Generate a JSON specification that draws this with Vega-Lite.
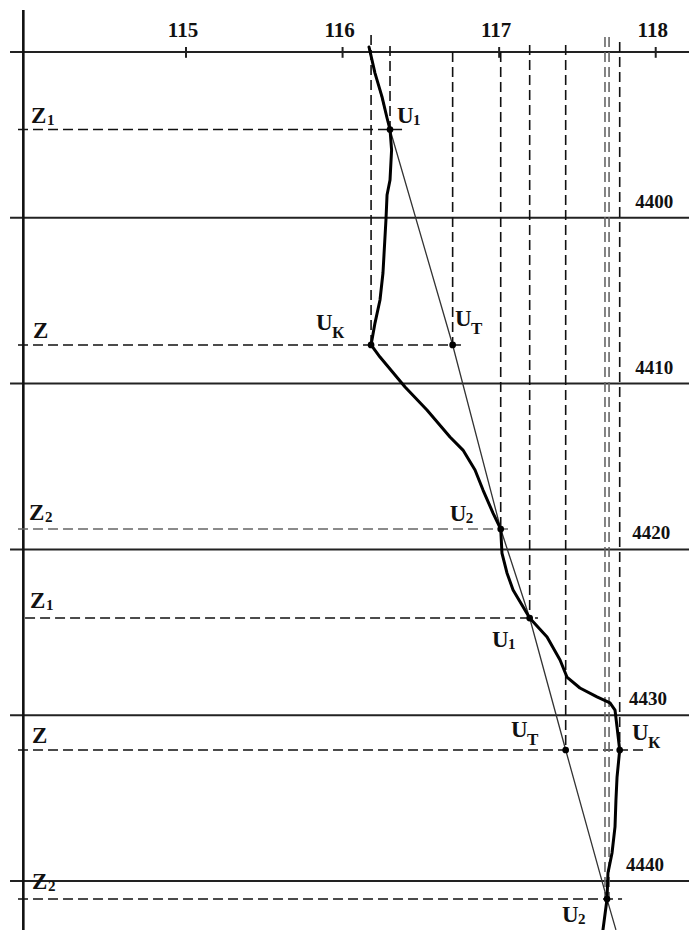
{
  "$schema": "https://vega.github.io/schema/vega-lite/v6.json",
  "width": 689,
  "height": 930,
  "autosize": {"type": "none"},
  "padding": 0,
  "background": "white",
  "config": {"view": {"stroke": null}},
  "datasets": {
    "depthLines": [
      {"x": 113.876, "x2": 118.2126, "d": 4390},
      {"x": 113.876, "x2": 118.2126, "d": 4400},
      {"x": 113.876, "x2": 118.2126, "d": 4410},
      {"x": 113.876, "x2": 118.2126, "d": 4420},
      {"x": 113.876, "x2": 118.2126, "d": 4430},
      {"x": 113.876, "x2": 118.2126, "d": 4440}
    ],
    "depthAxis": [{"x": 113.961, "d": 4387.47, "d2": 4442.956}],
    "ticks": [
      {"x": 115, "d": 4389.7, "d2": 4390.35, "t": "115"},
      {"x": 116, "d": 4389.7, "d2": 4390.35, "t": "116"},
      {"x": 117, "d": 4389.7, "d2": 4390.35, "t": "117"},
      {"x": 118, "d": 4389.7, "d2": 4390.35, "t": "118"}
    ],
    "depthLabels": [
      {"x": 117.87, "d": 4400, "t": "4400"},
      {"x": 117.87, "d": 4410, "t": "4410"},
      {"x": 117.85, "d": 4420, "t": "4420"},
      {"x": 117.83, "d": 4430, "t": "4430"},
      {"x": 117.81, "d": 4440, "t": "4440"}
    ],
    "guides": [
      {"name": "UK upper", "faint": false, "x": 116.182, "x2": 116.182, "d": 4388.975, "d2": 4407.67},
      {"name": "U1 upper", "faint": false, "x": 116.303, "x2": 116.303, "d": 4389.64, "d2": 4394.675},
      {"name": "UT upper", "faint": false, "x": 116.703, "x2": 116.703, "d": 4390.0, "d2": 4407.67},
      {"name": "U2 upper", "faint": false, "x": 117.01, "x2": 117.01, "d": 4390.0, "d2": 4418.77},
      {"name": "U1 lower", "faint": false, "x": 117.195, "x2": 117.195, "d": 4389.58, "d2": 4424.14},
      {"name": "UT lower", "faint": false, "x": 117.425, "x2": 117.425, "d": 4389.58, "d2": 4432.1},
      {"name": "UK lower", "faint": false, "x": 117.77, "x2": 117.77, "d": 4389.4, "d2": 4432.1},
      {"name": "U2 lower a", "faint": true, "x": 117.676, "x2": 117.676, "d": 4389.1, "d2": 4441.09},
      {"name": "U2 lower b", "faint": true, "x": 117.702, "x2": 117.702, "d": 4389.1, "d2": 4441.09},
      {"name": "Z1 upper", "faint": false, "x": 113.927, "x2": 116.38, "d": 4394.675, "d2": 4394.675},
      {"name": "Z upper", "faint": false, "x": 113.927, "x2": 116.756, "d": 4407.67, "d2": 4407.67},
      {"name": "Z2 upper", "faint": true, "x": 113.927, "x2": 117.088, "d": 4418.77, "d2": 4418.77},
      {"name": "Z1 lower", "faint": false, "x": 113.972, "x2": 117.248, "d": 4424.14, "d2": 4424.14},
      {"name": "Z lower", "faint": false, "x": 113.927, "x2": 117.951, "d": 4432.1, "d2": 4432.1},
      {"name": "Z2 lower", "faint": false, "x": 113.927, "x2": 117.785, "d": 4441.09, "d2": 4441.09}
    ],
    "trend": [
      {"i": 0, "x": 116.165, "d": 4389.7},
      {"i": 1, "x": 116.303, "d": 4394.675},
      {"i": 2, "x": 116.703, "d": 4407.67},
      {"i": 3, "x": 117.01, "d": 4418.77},
      {"i": 4, "x": 117.195, "d": 4424.14},
      {"i": 5, "x": 117.425, "d": 4432.1},
      {"i": 6, "x": 117.689, "d": 4441.09},
      {"i": 7, "x": 117.746, "d": 4442.95}
    ],
    "curve": [
      {"i": 1, "x": 116.169, "d": 4389.7},
      {"i": 2, "x": 116.207, "d": 4391.27},
      {"i": 3, "x": 116.252, "d": 4392.71},
      {"i": 4, "x": 116.284, "d": 4393.98},
      {"i": 5, "x": 116.303, "d": 4394.675},
      {"i": 6, "x": 116.313, "d": 4395.91},
      {"i": 7, "x": 116.303, "d": 4397.72},
      {"i": 8, "x": 116.284, "d": 4398.63},
      {"i": 9, "x": 116.277, "d": 4400.13},
      {"i": 10, "x": 116.258, "d": 4403.33},
      {"i": 11, "x": 116.239, "d": 4404.96},
      {"i": 12, "x": 116.207, "d": 4406.35},
      {"i": 13, "x": 116.182, "d": 4407.67},
      {"i": 14, "x": 116.239, "d": 4408.4},
      {"i": 15, "x": 116.399, "d": 4410.21},
      {"i": 16, "x": 116.539, "d": 4411.59},
      {"i": 17, "x": 116.686, "d": 4413.22},
      {"i": 18, "x": 116.769, "d": 4414.01},
      {"i": 19, "x": 116.846, "d": 4415.21},
      {"i": 20, "x": 116.897, "d": 4416.42},
      {"i": 21, "x": 116.961, "d": 4417.81},
      {"i": 22, "x": 117.01, "d": 4418.77},
      {"i": 23, "x": 117.018, "d": 4420.22},
      {"i": 24, "x": 117.05, "d": 4421.42},
      {"i": 25, "x": 117.089, "d": 4422.45},
      {"i": 26, "x": 117.195, "d": 4424.14},
      {"i": 27, "x": 117.306, "d": 4425.28},
      {"i": 28, "x": 117.389, "d": 4426.67},
      {"i": 29, "x": 117.433, "d": 4427.7},
      {"i": 30, "x": 117.516, "d": 4428.36},
      {"i": 31, "x": 117.625, "d": 4428.9},
      {"i": 32, "x": 117.708, "d": 4429.26},
      {"i": 33, "x": 117.74, "d": 4429.69},
      {"i": 34, "x": 117.753, "d": 4430.71},
      {"i": 35, "x": 117.77, "d": 4432.1},
      {"i": 36, "x": 117.753, "d": 4433.73},
      {"i": 37, "x": 117.746, "d": 4435.12},
      {"i": 38, "x": 117.74, "d": 4436.74},
      {"i": 39, "x": 117.721, "d": 4438.31},
      {"i": 40, "x": 117.695, "d": 4439.52},
      {"i": 41, "x": 117.689, "d": 4441.09},
      {"i": 42, "x": 117.663, "d": 4442.95}
    ],
    "points": [
      {"name": "U1", "x": 116.303, "d": 4394.675},
      {"name": "UK", "x": 116.182, "d": 4407.67},
      {"name": "UT", "x": 116.703, "d": 4407.67},
      {"name": "U2", "x": 117.01, "d": 4418.77},
      {"name": "U1", "x": 117.195, "d": 4424.14},
      {"name": "UT", "x": 117.425, "d": 4432.1},
      {"name": "UK", "x": 117.77, "d": 4432.1},
      {"name": "U2", "x": 117.689, "d": 4441.09}
    ],
    "labels": [
      {"main": "Z", "sub": "1", "x": 114.01, "d": 4394.28},
      {"main": "U", "sub": "1", "x": 116.348, "d": 4394.28},
      {"main": "U", "sub": "К", "x": 115.83, "d": 4406.77},
      {"main": "U", "sub": "Т", "x": 116.718, "d": 4406.53},
      {"main": "Z", "sub": "", "x": 114.023, "d": 4407.25},
      {"main": "U", "sub": "2", "x": 116.685, "d": 4418.29},
      {"main": "Z", "sub": "2", "x": 113.997, "d": 4418.23},
      {"main": "Z", "sub": "1", "x": 114.004, "d": 4423.54},
      {"main": "U", "sub": "1", "x": 116.955, "d": 4425.89},
      {"main": "Z", "sub": "", "x": 114.016, "d": 4431.68},
      {"main": "U", "sub": "Т", "x": 117.075, "d": 4431.32},
      {"main": "U", "sub": "К", "x": 117.849, "d": 4431.5},
      {"main": "Z", "sub": "2", "x": 114.016, "d": 4440.48},
      {"main": "U", "sub": "2", "x": 117.402, "d": 4442.5}
    ]
  },
  "encoding": {
    "x": {"field": "x", "type": "quantitative", "scale": {"domain": [113.812, 118.2126], "nice": false, "zero": false}, "axis": null},
    "y": {"field": "d", "type": "quantitative", "scale": {"domain": [4386.864, 4442.956], "nice": false, "zero": false, "reverse": true}, "axis": null}
  },
  "layer": [
    {
      "data": {"name": "depthLines"},
      "mark": {"type": "rule", "color": "#222222", "strokeWidth": 2},
      "encoding": {"x2": {"field": "x2"}}
    },
    {
      "data": {"name": "depthAxis"},
      "mark": {"type": "rule", "color": "#111111", "strokeWidth": 2.6},
      "encoding": {"y2": {"field": "d2"}}
    },
    {
      "data": {"name": "ticks"},
      "mark": {"type": "rule", "color": "#222222", "strokeWidth": 2},
      "encoding": {"y2": {"field": "d2"}}
    },
    {
      "data": {"name": "ticks"},
      "mark": {"type": "text", "font": "Liberation Serif", "fontWeight": "bold", "fontSize": 21, "align": "center", "baseline": "alphabetic", "dy": -10, "dx": -3, "color": "#111111"},
      "encoding": {"text": {"field": "t"}}
    },
    {
      "data": {"name": "depthLabels"},
      "mark": {"type": "text", "font": "Liberation Serif", "fontWeight": "bold", "fontSize": 19, "align": "left", "baseline": "alphabetic", "dy": -10, "color": "#111111"},
      "encoding": {"text": {"field": "t"}}
    },
    {
      "data": {"name": "guides"},
      "transform": [{"filter": "!datum.faint"}],
      "mark": {"type": "rule", "color": "#111111", "strokeWidth": 1.6, "strokeDash": [10, 5]},
      "encoding": {"x2": {"field": "x2"}, "y2": {"field": "d2"}}
    },
    {
      "data": {"name": "guides"},
      "transform": [{"filter": "datum.faint"}],
      "mark": {"type": "rule", "color": "#666666", "strokeWidth": 1.6, "strokeDash": [10, 5]},
      "encoding": {"x2": {"field": "x2"}, "y2": {"field": "d2"}}
    },
    {
      "data": {"name": "trend"},
      "mark": {"type": "line", "color": "#333333", "strokeWidth": 1.3},
      "encoding": {"order": {"field": "i", "type": "quantitative"}}
    },
    {
      "data": {"name": "curve"},
      "mark": {"type": "line", "color": "#000000", "strokeWidth": 3, "strokeJoin": "round", "strokeCap": "round"},
      "encoding": {"order": {"field": "i", "type": "quantitative"}}
    },
    {
      "data": {"name": "points"},
      "mark": {"type": "point", "filled": true, "color": "#000000", "size": 45, "opacity": 1}
    },
    {
      "data": {"name": "labels"},
      "mark": {"type": "text", "font": "Liberation Serif", "fontWeight": "bold", "fontSize": 23, "align": "left", "baseline": "alphabetic", "color": "#111111"},
      "encoding": {"text": {"field": "main"}}
    },
    {
      "data": {"name": "labels"},
      "transform": [{"filter": "datum.sub == '1' || datum.sub == '2'"}],
      "mark": {"type": "text", "font": "Liberation Serif", "fontWeight": "bold", "fontSize": 15, "align": "left", "baseline": "alphabetic", "dx": 16, "dy": 2, "color": "#111111"},
      "encoding": {"text": {"field": "sub"}}
    },
    {
      "data": {"name": "labels"},
      "transform": [{"filter": "datum.sub == 'К' || datum.sub == 'Т'"}],
      "mark": {"type": "text", "font": "Liberation Serif", "fontWeight": "bold", "fontSize": 17, "align": "left", "baseline": "alphabetic", "dx": 16, "dy": 8, "color": "#111111"},
      "encoding": {"text": {"field": "sub"}}
    }
  ]
}
